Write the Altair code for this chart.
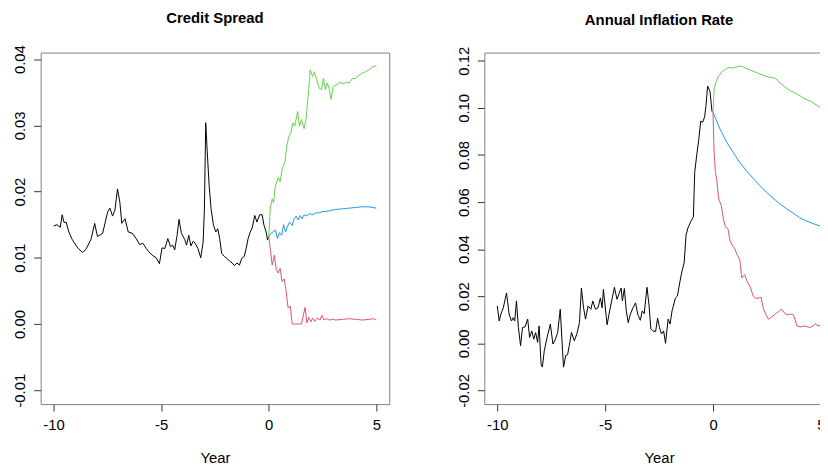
import altair as alt
import pandas as pd

# ---------------- Credit Spread (left panel) ----------------
cs_hist = [(-10.0, 0.0148), (-9.85, 0.0150), (-9.69, 0.0146), (-9.6, 0.0165), (-9.51, 0.0153),
           (-9.42, 0.0154), (-9.29, 0.0139), (-9.14, 0.0128), (-8.88, 0.0115), (-8.65, 0.0108),
           (-8.49, 0.0113), (-8.26, 0.0128), (-8.09, 0.0152), (-7.96, 0.0132), (-7.72, 0.0137),
           (-7.49, 0.0169), (-7.38, 0.0175), (-7.26, 0.0163), (-7.15, 0.0172), (-7.03, 0.0204),
           (-6.92, 0.0184), (-6.83, 0.0152), (-6.68, 0.0159), (-6.53, 0.0139), (-6.34, 0.0137),
           (-6.16, 0.0129), (-6.0, 0.0120), (-5.85, 0.0122), (-5.69, 0.0114), (-5.57, 0.0109),
           (-5.38, 0.0103), (-5.23, 0.0100), (-5.08, 0.0091), (-4.96, 0.0115), (-4.83, 0.0114),
           (-4.69, 0.0129), (-4.57, 0.0117), (-4.46, 0.0119), (-4.37, 0.0112), (-4.26, 0.0134),
           (-4.17, 0.0158), (-4.06, 0.0137), (-3.91, 0.0128), (-3.82, 0.0119), (-3.72, 0.0134),
           (-3.62, 0.0118), (-3.51, 0.0125), (-3.42, 0.0122), (-3.29, 0.0114), (-3.16, 0.0100),
           (-3.05, 0.0124), (-2.99, 0.0174), (-2.93, 0.0304), (-2.86, 0.0261), (-2.77, 0.0209),
           (-2.68, 0.0174), (-2.57, 0.0149), (-2.46, 0.0139), (-2.37, 0.0144), (-2.28, 0.0129),
           (-2.19, 0.0107), (-2.06, 0.0102), (-1.94, 0.0099), (-1.82, 0.0095), (-1.69, 0.0092),
           (-1.60, 0.0088), (-1.48, 0.0092), (-1.36, 0.0089), (-1.26, 0.0099), (-1.14, 0.0102),
           (-1.05, 0.0114), (-0.96, 0.0129), (-0.86, 0.0139), (-0.77, 0.0145), (-0.65, 0.0164),
           (-0.55, 0.0154), (-0.42, 0.0165), (-0.31, 0.0165), (-0.22, 0.0149), (-0.12, 0.0139),
           (-0.06, 0.0127), (0.0, 0.0132)]

cs_high = [(0.0, 0.0132), (0.07, 0.0174), (0.16, 0.0189), (0.22, 0.0183), (0.31, 0.0209),
           (0.44, 0.0221), (0.53, 0.0215), (0.62, 0.0234), (0.75, 0.0244), (0.84, 0.0269),
           (0.94, 0.0284), (1.03, 0.0289), (1.12, 0.0304), (1.21, 0.0299), (1.34, 0.0321),
           (1.43, 0.0299), (1.52, 0.0309), (1.64, 0.0295), (1.74, 0.0311), (1.80, 0.0334),
           (1.86, 0.0354), (1.92, 0.0384), (2.04, 0.0374), (2.12, 0.0381), (2.23, 0.0369),
           (2.35, 0.0356), (2.45, 0.0354), (2.54, 0.0371), (2.63, 0.0354), (2.72, 0.0364),
           (2.82, 0.0354), (2.89, 0.0339), (3.0, 0.0359), (3.15, 0.0361), (3.30, 0.0365),
           (3.46, 0.0363), (3.61, 0.0365), (3.74, 0.0364), (3.89, 0.0371), (4.04, 0.0371),
           (4.2, 0.0376), (4.35, 0.0379), (4.5, 0.0381), (4.66, 0.0384), (4.81, 0.0388),
           (5.0, 0.0390)]

cs_mid = [(0.0, 0.0132), (0.1, 0.0137), (0.2, 0.0139), (0.31, 0.0142), (0.41, 0.0129),
          (0.5, 0.0138), (0.6, 0.0134), (0.69, 0.0150), (0.78, 0.0139), (0.88, 0.0148),
          (0.97, 0.0154), (1.09, 0.0149), (1.18, 0.0159), (1.27, 0.0163), (1.37, 0.0157),
          (1.46, 0.0164), (1.55, 0.0159), (1.64, 0.0165), (1.77, 0.0163), (1.89, 0.0167),
          (2.04, 0.0165), (2.2, 0.0168), (2.35, 0.0168), (2.51, 0.0170), (2.66, 0.0170),
          (2.81, 0.0171), (3.12, 0.0173), (3.43, 0.0174), (3.74, 0.0175), (4.04, 0.0176),
          (4.35, 0.0177), (4.66, 0.0177), (5.0, 0.0175)]

cs_low = [(0.0, 0.0132), (0.07, 0.0114), (0.16, 0.0089), (0.26, 0.0104), (0.35, 0.0082),
          (0.44, 0.0077), (0.53, 0.0084), (0.62, 0.0064), (0.72, 0.0068), (0.81, 0.0049),
          (0.9, 0.0024), (1.0, 0.0027), (1.09, 0.0000), (1.25, 0.0000), (1.52, 0.0000),
          (1.62, 0.0015), (1.69, 0.0025), (1.77, 0.0002), (1.86, 0.0010), (1.95, 0.0003),
          (2.04, 0.0009), (2.14, 0.0004), (2.26, 0.0009), (2.38, 0.0006), (2.47, 0.0013),
          (2.57, 0.0006), (2.69, 0.0008), (2.81, 0.0006), (2.97, 0.0007), (3.12, 0.0006),
          (3.43, 0.0007), (3.74, 0.0008), (4.04, 0.0007), (4.35, 0.0006), (4.66, 0.0007),
          (4.88, 0.0008), (5.0, 0.0006)]

# ---------------- Annual Inflation Rate (right panel) ----------------
inf_hist = [(-10.0, 0.0159), (-9.91, 0.0095), (-9.83, 0.0124), (-9.72, 0.0151), (-9.57, 0.0214),
            (-9.45, 0.0124), (-9.34, 0.0095), (-9.26, 0.0109), (-9.19, 0.0095), (-9.11, 0.0180),
            (-9.02, 0.0067), (-8.92, -0.0010), (-8.83, 0.0067), (-8.71, 0.0070), (-8.59, 0.0103),
            (-8.50, 0.0025), (-8.40, 0.0053), (-8.31, 0.0018), (-8.22, 0.0046), (-8.13, 0.0004),
            (-8.06, 0.0074), (-7.97, -0.0087), (-7.91, -0.0101), (-7.82, -0.0031), (-7.69, 0.0025),
            (-7.54, 0.0082), (-7.42, -0.0003), (-7.30, 0.0018), (-7.20, 0.0046), (-7.08, 0.0145),
            (-6.99, -0.0003), (-6.93, -0.0101), (-6.83, -0.0052), (-6.74, -0.0048), (-6.65, -0.0003),
            (-6.56, 0.0046), (-6.43, 0.0011), (-6.31, 0.0040), (-6.19, 0.0088), (-6.10, 0.0235),
            (-6.0, 0.0151), (-5.91, 0.0103), (-5.79, 0.0159), (-5.66, 0.0145), (-5.57, 0.0180),
            (-5.45, 0.0145), (-5.33, 0.0151), (-5.22, 0.0193), (-5.14, 0.0151), (-5.08, 0.0229),
            (-4.91, 0.0079), (-4.79, 0.0138), (-4.67, 0.0193), (-4.57, 0.0238), (-4.45, 0.0187),
            (-4.36, 0.0210), (-4.26, 0.0235), (-4.20, 0.0180), (-4.11, 0.0233), (-4.02, 0.0138),
            (-3.93, 0.0088), (-3.83, 0.0124), (-3.71, 0.0151), (-3.59, 0.0172), (-3.49, 0.0124),
            (-3.37, 0.0098), (-3.28, 0.0138), (-3.19, 0.0126), (-3.06, 0.0238), (-2.97, 0.0166),
            (-2.88, 0.0061), (-2.79, 0.0053), (-2.66, 0.0050), (-2.57, 0.0107), (-2.48, 0.0067),
            (-2.39, 0.0040), (-2.29, 0.0053), (-2.20, 0.0000), (-2.14, 0.0053), (-2.08, 0.0103),
            (-1.99, 0.0082), (-1.90, 0.0138), (-1.74, 0.0193), (-1.65, 0.0201), (-1.53, 0.0264),
            (-1.44, 0.0306), (-1.34, 0.0341), (-1.25, 0.0460), (-1.16, 0.0491), (-1.0, 0.0523),
            (-0.91, 0.0537), (-0.85, 0.0726), (-0.76, 0.0796), (-0.66, 0.0866), (-0.57, 0.0944),
            (-0.48, 0.0939), (-0.39, 0.0962), (-0.33, 0.1007), (-0.25, 0.1093), (-0.14, 0.1070),
            (-0.05, 0.0986), (0.0, 0.0981)]

inf_high = [(0.0, 0.0981), (0.05, 0.1077), (0.14, 0.1112), (0.26, 0.1135), (0.42, 0.1154),
            (0.57, 0.1164), (0.73, 0.1172), (0.88, 0.1169), (1.10, 0.1175), (1.31, 0.1178),
            (1.50, 0.1169), (1.71, 0.1161), (1.96, 0.1152), (2.17, 0.1144), (2.42, 0.1135),
            (2.63, 0.1130), (2.88, 0.1126), (3.09, 0.1108), (3.34, 0.1088), (3.55, 0.1074),
            (3.80, 0.1063), (4.04, 0.1051), (4.29, 0.1037), (4.54, 0.1028), (4.78, 0.1013),
            (5.0, 0.1001)]

inf_mid = [(0.0, 0.0981), (0.32, 0.0911), (0.63, 0.0855), (0.94, 0.0810), (1.24, 0.0768),
           (1.55, 0.0733), (1.86, 0.0701), (2.17, 0.0670), (2.47, 0.0642), (2.78, 0.0617),
           (3.09, 0.0593), (3.40, 0.0572), (3.71, 0.0553), (4.01, 0.0534), (4.32, 0.0520),
           (4.63, 0.0509), (5.0, 0.0497)]

inf_low = [(0.0, 0.0981), (0.05, 0.0810), (0.11, 0.0726), (0.17, 0.0698), (0.26, 0.0614),
           (0.38, 0.0586), (0.48, 0.0530), (0.57, 0.0495), (0.69, 0.0488), (0.78, 0.0439),
           (0.88, 0.0418), (1.0, 0.0404), (1.12, 0.0376), (1.24, 0.0355), (1.33, 0.0278),
           (1.46, 0.0292), (1.58, 0.0264), (1.74, 0.0235), (1.86, 0.0201), (1.98, 0.0191),
           (2.14, 0.0193), (2.23, 0.0196), (2.32, 0.0151), (2.44, 0.0124), (2.57, 0.0103),
           (2.72, 0.0112), (2.88, 0.0124), (3.03, 0.0135), (3.18, 0.0145), (3.30, 0.0130),
           (3.43, 0.0121), (3.58, 0.0124), (3.73, 0.0121), (3.89, 0.0074), (4.04, 0.0070),
           (4.26, 0.0074), (4.47, 0.0067), (4.63, 0.0073), (4.75, 0.0084), (4.85, 0.0073),
           (5.0, 0.0079)]

x_ticks = [-10, -5, 0, 5]
cs_ticks = [-0.01, 0.0, 0.01, 0.02, 0.03, 0.04]
inf_ticks = [-0.02, 0.0, 0.02, 0.04, 0.06, 0.08, 0.10, 0.12]

series_names = ["hist", "low", "high", "mid"]
series_colors = ["#000000", "#DF536B", "#61D04F", "#2297E6"]

FONT = "Liberation Sans"


def panel(hist, low, high, mid, title, ydomain, yticks, width):
    rows = []
    for name, pts in zip(series_names, [hist, low, high, mid]):
        rows += [{"year": x, "value": v, "series": name} for x, v in pts]
    df = pd.DataFrame(rows)
    return alt.Chart(df).mark_line(strokeWidth=1, clip=True).encode(
        x=alt.X("year:Q",
                scale=alt.Scale(domain=[-10.6, 5.6], nice=False, zero=False),
                axis=alt.Axis(values=x_ticks, title="Year",
                              labelExpr="datum.value < 0 ? '-' + format(-datum.value, 'd') : format(datum.value, 'd')",
                              labelPadding=7, titlePadding=18)),
        y=alt.Y("value:Q",
                scale=alt.Scale(domain=ydomain, nice=False, zero=False),
                axis=alt.Axis(values=yticks, title=None, labelAngle=270,
                              labelAlign="center", labelBaseline="bottom",
                              labelPadding=6, minExtent=33, maxExtent=33,
                              labelExpr="datum.value < 0 ? '-' + format(-datum.value, '.2f') : format(datum.value, '.2f')")),
        color=alt.Color("series:N",
                        scale=alt.Scale(domain=series_names, range=series_colors),
                        legend=None),
    ).properties(
        width=width, height=355,
        title=alt.TitleParams(title, fontSize=15, fontWeight="bold", font=FONT,
                              anchor="middle", color="black", offset=19),
    )


left = panel(cs_hist, cs_low, cs_high, cs_mid, "Credit Spread",
             [-0.0121, 0.0410], cs_ticks, 352)
right = panel(inf_hist, inf_low, inf_high, inf_mid, "Annual Inflation Rate",
              [-0.0258, 0.1235], inf_ticks, 353)

chart = alt.hconcat(left, right, spacing=61).properties(
    autosize=alt.AutoSizeParams(type="none"),
    padding={"left": 33, "top": 41, "right": 787, "bottom": 417},
    background="white",
).configure_view(
    stroke="#808080", strokeWidth=1
).configure_axis(
    domain=False, grid=False, tickColor="#333333", tickSize=7,
    labelFont=FONT, labelFontSize=15, labelColor="black",
    titleFont=FONT, titleFontSize=15, titleFontWeight="normal", titleColor="black",
)

chart.save("out.html", embed_options={"renderer": "svg", "actions": False})
